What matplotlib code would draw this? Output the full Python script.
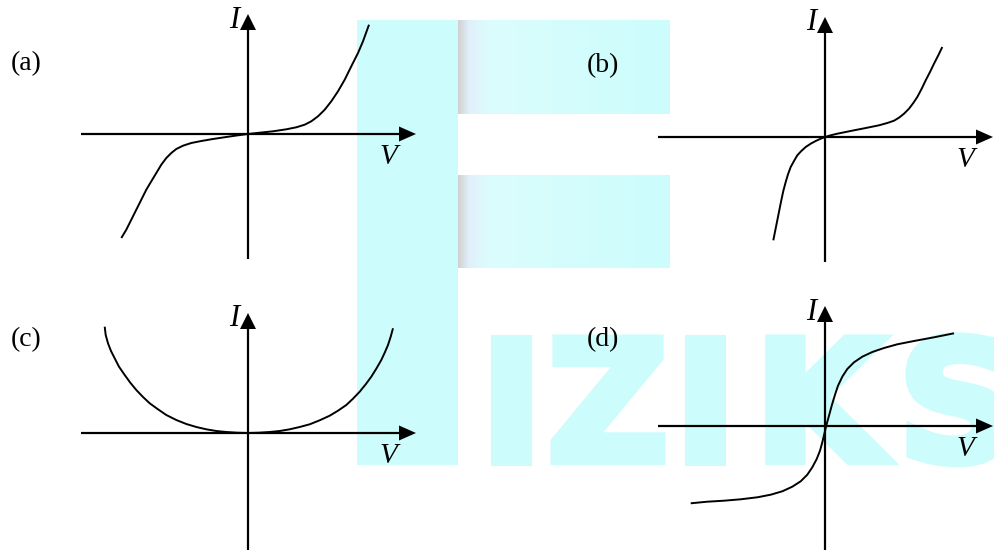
import numpy as np
import matplotlib
matplotlib.use("Agg")
import matplotlib.pyplot as plt
import matplotlib.patheffects as pe

# I-V curves (pixels relative to each origin, y up)
a_v = [-126.7, -121.7, -116.7, -111.7, -106.7, -101.7, -96.7, -91.7, -86.7,
       -81.7, -76.7, -71.7, -65, -56.7, -46.7, -35, -21.7, -10, 0,
       11.7, 25, 38.3, 48.3, 56.7, 63.3, 70, 76.7, 83.3, 90, 96.7, 103.3,
       110, 115, 121]
a_i = [-104, -95.7, -85.7, -75.7, -65.7, -55.7, -47.3, -39, -30.7,
       -24, -19, -15, -11.7, -9, -7, -5, -3, -1.3, 0,
       1.3, 2.7, 4.7, 6.7, 9.3, 12.7, 17.7, 24.3, 32.7, 42.7, 54.3, 67.7,
       81, 92.7, 109.3]

b_v = [-51.7, -49.7, -47.7, -45.7, -43.7, -41.7, -39.3, -37, -34.3, -31,
       -27.7, -23.7, -19.3, -14.3, -9.3, -4.3, 0,
       5.7, 12.3, 20.7, 29, 37.3, 45.7, 54, 62.3, 69, 74, 79, 84, 88.3,
       92.3, 96.7, 100.7, 105, 109, 113.3, 117.3]
b_i = [-103.3, -93.3, -83.3, -73.3, -63.3, -54, -45, -37.3, -30, -24,
       -18.3, -14, -10, -6.7, -4, -1.7, 0,
       1.7, 3.3, 5, 6.7, 8.3, 10, 11.7, 14, 16.3, 19.3, 23.3, 28.3, 34,
       40, 48.3, 56.7, 65, 73.3, 81.7, 90]

c_v = [-143.3, -142.3, -140, -137, -133.3, -129, -123.3, -117.7, -111.7,
       -105, -98.3, -90, -81.7, -71.7, -61.7, -51.7, -41.7, -31.7, -21.7,
       -11, 0, 11, 21.7, 31.7, 41.7, 51.7, 61.7, 71.7, 81.7, 90, 98.3, 105,
       111.7, 117.7, 123.3, 128.3, 133.3, 136.7, 140, 142.7, 145]
c_i = [106.3, 98, 89.7, 82, 74.7, 66.3, 58, 50.3, 43,
       36, 29.7, 23.7, 18, 13, 9, 6, 3.7, 2, 1,
       0.3, 0, 0.3, 1, 2, 3.7, 6, 8.7, 12.7, 17.3, 22.3, 28, 34.3,
       41.3, 48.7, 56.3, 64.3, 73, 80.3, 88, 96.3, 104.7]

d_v = [-134.3, -117.7, -101, -84.3, -67.7, -54.3, -42.7, -32.7, -24.3,
       -17.7, -12.7, -8.3, -5, -2.7, -0.3, 1.7, 4, 6.7, 9.7, 13, 17.3,
       22.3, 29, 37.3, 47.3, 59, 72.3, 89, 109, 129]
d_i = [-77.3, -75.7, -74.7, -73.3, -71.3, -68.7, -65.3, -60.7, -55.3,
       -48.7, -41.3, -33, -24.7, -16.3, -6.3, 2, 10.3, 20.3, 30.3, 40.3,
       49.3, 57, 63.7, 69.3, 74, 78, 81.7, 85, 88.7, 92.7]

panels = [("(a)", a_v, a_i, 248, 134),
          ("(b)", b_v, b_i, 825, 137),
          ("(c)", c_v, c_i, 248, 433),
          ("(d)", d_v, d_i, 825, 426)]
label_pos = [(26, 64), (603, 66), (26, 340), (603, 340)]

W, H = 994, 550
fig = plt.figure(figsize=(W / 100, H / 100), dpi=100)

# watermark in pixel coordinates
bg = fig.add_axes([0, 0, 1, 1])
cyan = "#ccfcfc"
bg.fill_between([357, 458], 20, 465, color=cyan, lw=0)
grad = np.linspace(0, 1, 200)
r = np.interp(grad, [0, 0.05, 0.15, 1], [0.82, 0.88, 0.86, 0.80])
g = np.interp(grad, [0, 0.05, 0.15, 1], [0.82, 0.94, 0.99, 0.99])
b = np.interp(grad, [0, 0.05, 0.15, 1], [0.82, 0.98, 0.99, 0.99])
img = np.dstack([r, g, b])
for top, bot in [(20, 114), (175, 268)]:
    bg.imshow(img, extent=[458, 670, bot, top], aspect="auto")
for ch, x in zip("IZIKS", [511, 608, 705, 819, 958]):
    bg.text(x, 460.5, ch, color=cyan, fontsize=120, fontweight="bold",
            family="DejaVu Sans", ha="center", va="baseline",
            path_effects=[pe.withStroke(linewidth=6.5, foreground=cyan,
                                        joinstyle="miter")])
bg.set_xlim(0, W)
bg.set_ylim(H, 0)
bg.axis("off")

serif = "Liberation Serif"
for (name, v, i, ox, oy), (lx, ly) in zip(panels, label_pos):
    bg.text(lx, ly, name, fontsize=20, family=serif, ha="center", va="center")
    pw, ph = 360, 270
    ax = fig.add_axes([(ox - pw / 2) / W, (H - oy - ph / 2) / H, pw / W, ph / H])
    ax.set_xlim(-pw / 2, pw / 2)
    ax.set_ylim(-ph / 2, ph / 2)
    ax.axis("off")
    ax.patch.set_alpha(0)
    ax.arrow(-167, 0, 335, 0, width=2.2, head_width=15, head_length=17,
             length_includes_head=True, fc="k", ec="none", clip_on=False)
    ax.arrow(0, -125, 0, 245, width=2.2, head_width=16, head_length=16,
             length_includes_head=True, fc="k", ec="none", clip_on=False)
    ax.plot(v, i, color="k", lw=1.4, solid_joinstyle="round",
            solid_capstyle="butt", clip_on=False)
    ax.text(-14, 114, "I", fontsize=22, family=serif, style="italic",
            ha="center", va="center")
    ax.text(140, -23, "V", fontsize=21, family=serif, style="italic",
            ha="center", va="center")

fig.savefig("out.png", dpi=100)
